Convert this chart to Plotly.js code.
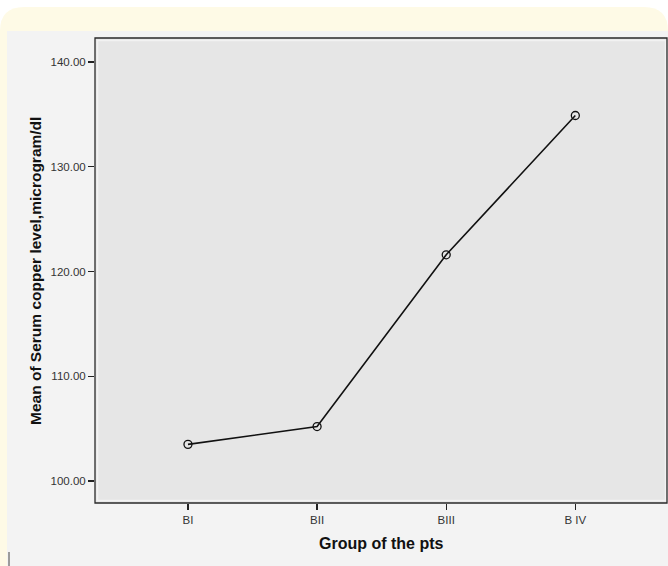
<!DOCTYPE html>
<html>
<head>
<meta charset="utf-8">
<script src="https://cdn.plot.ly/plotly-3.0.1.min.js"></script>
<style>html,body{margin:0;padding:0;background:#fff;}#chart{width:668px;height:566px;}</style>
</head>
<body>
<div id="chart"></div>
<script>
const groups = ["BI", "BII", "BIII", "B IV"];
const meanCopper = [103.5, 105.2, 121.6, 134.9];
const yTickValues = [100, 110, 120, 130, 140];

const W = 668, H = 566;
const M = {l: 95, r: 1, t: 38, b: 63};
const pw = W - M.l - M.r, ph = H - M.t - M.b;
const px = x => (x - M.l) / pw;
const py = y => (H - M.b - y) / ph;

function roundedTop(x0, y0, x1, y1, r) {
  return `M ${px(x0)},${py(y1)} L ${px(x0)},${py(y0 + r)} Q ${px(x0)},${py(y0)} ${px(x0 + r)},${py(y0)} ` +
         `L ${px(x1 - r)},${py(y0)} Q ${px(x1)},${py(y0)} ${px(x1)},${py(y0 + r)} L ${px(x1)},${py(y1)} Z`;
}

const shapes = [
  {type: 'path', xref: 'paper', yref: 'paper', path: roundedTop(0, 7, 668, 566, 24),
   fillcolor: '#fefae6', line: {width: 0}, layer: 'below'},
  {type: 'rect', xref: 'paper', yref: 'paper', x0: px(7), x1: px(668), y0: py(566), y1: py(31),
   fillcolor: '#f3f3f3', line: {width: 0}, layer: 'below'},
  {type: 'rect', xref: 'paper', yref: 'paper', x0: 0, x1: 1, y0: 0, y1: 1,
   fillcolor: '#e6e6e6', line: {width: 0}, layer: 'below'},
  {type: 'rect', xref: 'paper', yref: 'paper', x0: px(97.5), x1: px(665.5), y0: py(500.5), y1: py(40.5),
   fillcolor: 'rgba(0,0,0,0)', line: {color: '#f2f2f2', width: 1.5}, layer: 'below'},
  {type: 'rect', xref: 'paper', yref: 'paper', x0: 0, x1: px(667), y0: 0, y1: 1,
   fillcolor: 'rgba(0,0,0,0)', line: {color: '#2a2a2a', width: 1.3}, layer: 'above'},
  {type: 'line', xref: 'paper', yref: 'paper', x0: px(9), x1: px(9), y0: py(552), y1: py(566),
   line: {color: '#444', width: 1}}
];

const trace = {
  x: groups,
  y: meanCopper,
  type: 'scatter',
  mode: 'lines+markers',
  line: {color: '#111', width: 1.6},
  marker: {symbol: 'circle-open', size: 8, color: '#111', line: {width: 1.3, color: '#111'}},
  hoverinfo: 'x+y'
};

const layout = {
  width: W, height: H,
  margin: M,
  paper_bgcolor: '#ffffff',
  plot_bgcolor: 'rgba(0,0,0,0)',
  showlegend: false,
  font: {family: 'Liberation Sans, Arial, sans-serif', size: 11, color: '#333'},
  xaxis: {
    type: 'category',
    range: [-0.72, 3.71],
    showgrid: false, zeroline: false, showline: false,
    ticks: 'outside', ticklen: 6, tickwidth: 1.3, tickcolor: '#222',
    tickfont: {size: 11.5, color: '#333'}
  },
  yaxis: {
    range: [97.9, 142.3],
    tickvals: yTickValues,
    tickformat: '.2f',
    showgrid: false, zeroline: false, showline: false,
    ticks: 'outside', ticklen: 6, tickwidth: 1.3, tickcolor: '#222',
    tickfont: {size: 11.5, color: '#333'}
  },
  shapes: shapes,
  annotations: [
    {text: '<b>Group of the pts</b>', xref: 'paper', yref: 'paper', x: px(381), y: py(543),
     showarrow: false, font: {size: 16, color: '#111'}, xanchor: 'center', yanchor: 'middle'},
    {text: '<b>Mean of Serum copper level,microgram/dl</b>', xref: 'paper', yref: 'paper', x: px(35), y: py(271),
     textangle: -90, showarrow: false, font: {size: 15.5, color: '#111'}, xanchor: 'center', yanchor: 'middle'}
  ]
};

Plotly.newPlot('chart', [trace], layout, {displayModeBar: false, staticPlot: true});
</script>
</body>
</html>
